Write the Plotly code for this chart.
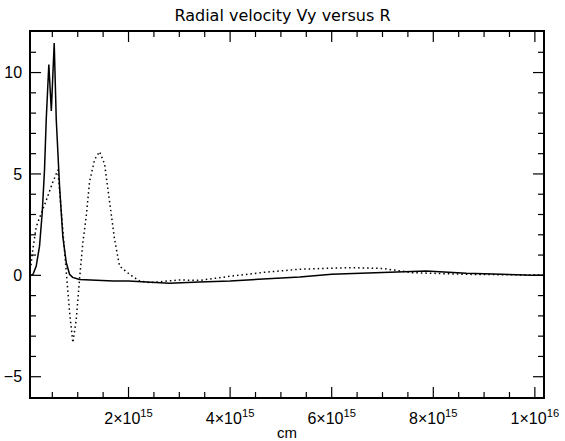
import plotly.graph_objects as go

# Data (x in units of 1e15 cm, y = velocity)
solid_x = [0.08, 0.12, 0.183, 0.248, 0.301, 0.346, 0.380, 0.411, 0.431, 0.48, 0.537, 0.577,
           0.642, 0.707, 0.774, 0.839, 0.90, 1.035, 1.4, 1.7, 2.0, 2.35, 2.8, 3.4, 4.0,
           5.37, 6.0, 7.0, 7.47, 7.86, 8.65, 9.3, 9.95, 10.16]
solid_y = [0.0, 0.05, 0.46, 1.44, 3.1, 5.2, 7.7, 10.0, 10.4, 8.1, 11.46, 7.7,
           4.4, 1.9, 0.63, 0.05, -0.1, -0.2, -0.25, -0.28, -0.28, -0.33, -0.39, -0.33, -0.28,
           -0.08, 0.05, 0.14, 0.18, 0.21, 0.1, 0.04, 0.01, 0.01]

dot_x = [0.08, 0.116, 0.183, 0.281, 0.380, 0.510, 0.608, 0.642, 0.740, 0.805, 0.839, 0.904,
         0.970, 1.035, 1.100, 1.167, 1.232, 1.331, 1.429, 1.528, 1.626, 1.724, 1.823, 2.020,
         2.217, 2.413, 3.004, 3.4, 4.047, 4.711, 5.366, 6.016, 6.35, 7.0, 7.366, 7.59, 8.65,
         9.95, 10.16]
dot_y = [0.5, 1.28, 2.4, 3.1, 3.7, 4.6, 5.2, 4.2, 1.1, -0.5, -1.8, -3.32,
         -2.2, -0.2, 1.6, 2.9, 4.6, 5.7, 6.1, 5.5, 3.7, 1.8, 0.46, 0.05,
         -0.28, -0.36, -0.23, -0.25, -0.03, 0.16, 0.3, 0.37, 0.38, 0.34, 0.21, 0.13, 0.05,
         0.01, 0.01]

x_tick_vals = [2, 4, 6, 8, 10]
x_tick_text = ["2×10<sup>15</sup>", "4×10<sup>15</sup>", "6×10<sup>15</sup>",
               "8×10<sup>15</sup>", "1×10<sup>16</sup>"]
x_minor_vals = [0.5, 1, 1.5, 2.5, 3, 3.5, 4.5, 5, 5.5, 6.5, 7, 7.5, 8.5, 9, 9.5]
y_tick_vals = [-5, 0, 5, 10]
y_minor_vals = [-4, -3, -2, -1, 1, 2, 3, 4, 6, 7, 8, 9, 11]

SCALE = 1e15
FONT = "Liberation Sans"
X_RANGE = [0.08 * SCALE, 10.16 * SCALE]
Y_RANGE = [-6, 12]
MAJOR_LEN, MINOR_LEN = 10, 5

fig = go.Figure()
fig.add_trace(go.Scatter(x=[v * SCALE for v in solid_x], y=solid_y, mode="lines",
                         line=dict(color="black", width=1.5), showlegend=False))
fig.add_trace(go.Scatter(x=[v * SCALE for v in dot_x], y=dot_y, mode="lines",
                         line=dict(color="black", width=1.5, dash="1.5px,3px"),
                         showlegend=False))

# tick marks drawn as pixel-sized shapes anchored to the axis values
shapes = []
tick_line = dict(color="black", width=1.2)
for vals, ln in ((x_tick_vals, MAJOR_LEN), (x_minor_vals, MINOR_LEN)):
    for v in vals:
        for anchor, sign in ((0, 1), (1, -1)):
            shapes.append(dict(type="line", xref="x", yref="paper",
                               x0=v * SCALE, x1=v * SCALE,
                               ysizemode="pixel", yanchor=anchor, y0=0, y1=sign * ln,
                               line=tick_line, layer="above"))
for vals, ln in ((y_tick_vals, MAJOR_LEN), (y_minor_vals, MINOR_LEN)):
    for v in vals:
        for anchor, sign in ((0, 1), (1, -1)):
            shapes.append(dict(type="line", xref="paper", yref="y",
                               y0=v, y1=v,
                               xsizemode="pixel", xanchor=anchor, x0=0, x1=sign * ln,
                               line=tick_line, layer="above"))

fig.update_layout(
    width=565, height=441,
    margin=dict(l=31, r=22, t=32, b=44, autoexpand=False),
    paper_bgcolor="white", plot_bgcolor="white",
    shapes=shapes,
    title=dict(text="Radial velocity Vy versus R", x=0.5, xanchor="center",
               y=1 - 15 / 441, yanchor="middle",
               font=dict(family="DejaVu Sans", size=16, color="black")),
    font=dict(family=FONT, size=15, color="black"),
    xaxis=dict(
        range=X_RANGE,
        tickmode="array", tickvals=[v * SCALE for v in x_tick_vals], ticktext=x_tick_text,
        ticks="", ticklabelstandoff=6,
        showline=True, linecolor="black", linewidth=1.5, mirror=True,
        showgrid=False, zeroline=False, automargin=False,
        title=dict(text="cm", font=dict(family=FONT, size=15), standoff=15),
        tickfont=dict(family=FONT, size=16),
    ),
    yaxis=dict(
        range=Y_RANGE,
        tickmode="array", tickvals=y_tick_vals,
        ticks="", ticklabelstandoff=4,
        showline=True, linecolor="black", linewidth=1.5, mirror=True,
        showgrid=False, zeroline=False, automargin=False,
        tickfont=dict(family=FONT, size=16),
    ),
)

fig.write_html("out.html")
